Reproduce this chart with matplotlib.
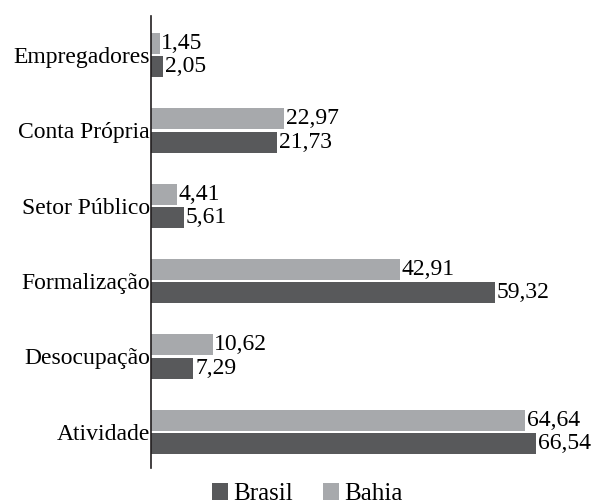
import numpy as np
import matplotlib.pyplot as plt

categorias = ["Atividade", "Desocupação", "Formalização", "Setor Público", "Conta Própria", "Empregadores"]
brasil = [66.54, 7.29, 59.32, 5.61, 21.73, 2.05]
bahia = [64.64, 10.62, 42.91, 4.41, 22.97, 1.45]

cor_brasil = "#58595b"
cor_bahia = "#a7a9ac"

plt.rcParams['font.family'] = 'serif'
plt.rcParams['font.serif'] = ['Liberation Serif', 'Nimbus Roman', 'Times New Roman', 'DejaVu Serif']

fig = plt.figure(figsize=(5.95, 5.04), dpi=100)
ax = fig.add_axes([0.254, 0.0714, 0.73, 0.897])

y = np.arange(len(categorias))
h = 0.28
gap = 0.015
b1 = ax.barh(y - h / 2 - gap, brasil, height=h, color=cor_brasil, label="Brasil")
b2 = ax.barh(y + h / 2 + gap, bahia, height=h, color=cor_bahia, label="Bahia")

# rótulos de valor com vírgula decimal
for bars, vals in [(b1, brasil), (b2, bahia)]:
    for b, v in zip(bars, vals):
        ax.text(b.get_width() + 0.3, b.get_y() + b.get_height() / 2,
                f"{v:.2f}".replace(".", ","), va="center", ha="left", fontsize=17)

ax.set_yticks(y)
ax.set_yticklabels(categorias, fontsize=17)
ax.tick_params(axis="y", length=0, pad=1)
ax.set_xticks([])
ax.set_xlim(0, 75)
ax.set_ylim(-0.48, 5.52)
for s in ["top", "right", "bottom"]:
    ax.spines[s].set_visible(False)
ax.spines["left"].set_linewidth(1.2)
ax.spines["left"].set_color("#231f20")

fig.legend(handles=[b1, b2], loc="center", bbox_to_anchor=(0.516, 0.02), ncol=2,
           frameon=False, fontsize=18, handlelength=0.65, handleheight=0.65,
           handletextpad=0.2, columnspacing=1.2, borderaxespad=0)

fig.savefig("out.png", dpi=100)
